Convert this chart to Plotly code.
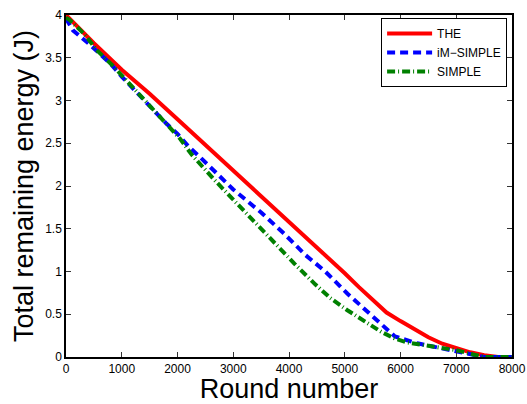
import plotly.graph_objects as go

# THE
the_x = [0, 500, 1000, 1500, 2000, 2500, 3000, 3500, 4000, 4500, 5000, 5250, 5500, 5750,
         6000, 6250, 6500, 6750, 7000, 7250, 7500, 7750, 8000]
the_y = [4.00, 3.67, 3.36, 3.08, 2.78, 2.48, 2.18, 1.88, 1.59, 1.29, 0.98, 0.82, 0.67, 0.52,
         0.42, 0.32, 0.23, 0.155, 0.10, 0.055, 0.02, 0.0, 0.0]

# iM-SIMPLE
im_x = [0, 125, 400, 600, 800, 1000, 1200, 1400, 1600, 1800, 2000, 2200, 2400, 2700, 3000,
        3500, 3900, 4300, 4650, 5050, 5500, 5900, 6300, 6800, 7100, 7500, 8000]
im_y = [3.96, 3.82, 3.67, 3.55, 3.43, 3.28, 3.14, 3.00, 2.87, 2.73, 2.61, 2.46, 2.34, 2.15, 1.96,
        1.69, 1.45, 1.19, 1.00, 0.74, 0.47, 0.24, 0.16, 0.09, 0.045, 0.0, 0.0]

# SIMPLE
s_x = [0, 70, 340, 550, 850, 1100, 1330, 1570, 1810, 2050, 2250, 2650, 3100, 3600, 4100,
       4470, 4740, 5040, 5340, 5640, 5880, 6120, 6600, 7000, 7300, 7500, 8000]
s_y = [3.97, 3.94, 3.77, 3.59, 3.40, 3.22, 3.05, 2.89, 2.72, 2.55, 2.37, 2.08, 1.77, 1.43, 1.09,
       0.85, 0.69, 0.55, 0.42, 0.30, 0.22, 0.17, 0.12, 0.08, 0.03, 0.0, 0.0]

x_ticks = [0, 1000, 2000, 3000, 4000, 5000, 6000, 7000, 8000]
y_ticks = [0, 0.5, 1, 1.5, 2, 2.5, 3, 3.5, 4]
y_tick_text = ["0", "0.5", "1", "1.5", "2", "2.5", "3", "3.5", "4"]

FONT = "Liberation Sans, Arial, sans-serif"

fig = go.Figure()
fig.add_trace(go.Scatter(x=the_x, y=the_y, mode="lines", name="THE",
                         line=dict(color="#FF0000", width=4)))
fig.add_trace(go.Scatter(x=im_x, y=im_y, mode="lines", name="iM\u2212SIMPLE",
                         line=dict(color="#0000FF", width=4, dash="8px,5px")))
fig.add_trace(go.Scatter(x=s_x, y=s_y, mode="lines", name="SIMPLE",
                         line=dict(color="#008000", width=4, dash="8px,3px,1px,3px")))

axis_common = dict(
    showline=True, linecolor="black", linewidth=1.5, mirror="ticks",
    ticks="inside", ticklen=5, tickwidth=1, tickcolor="#333333",
    showgrid=False, zeroline=False,
    tickfont=dict(family=FONT, size=12, color="black"),
)

fig.update_layout(
    width=527, height=404,
    margin=dict(l=66, r=15, t=15, b=47),
    paper_bgcolor="white", plot_bgcolor="white",
    font=dict(family=FONT, color="black"),
    xaxis=dict(range=[0, 8000], tickvals=x_ticks, automargin=False,
               title=dict(text="Round number", font=dict(family=FONT, size=27), standoff=6),
               **axis_common),
    yaxis=dict(range=[0, 4], tickvals=y_ticks, ticktext=y_tick_text, automargin=False,
               title=dict(text="Total remaining energy (J)", font=dict(family=FONT, size=27), standoff=4),
               **axis_common),
    legend=dict(x=0.989, y=0.991, xanchor="right", yanchor="top",
                bgcolor="white", bordercolor="black", borderwidth=1,
                font=dict(family=FONT, size=12), tracegroupgap=0, itemwidth=45),
    showlegend=True,
)

# remove the default 8px page margin so the 527x404 figure fills the window exactly
fig.write_html("out.html", config={"displayModeBar": False},
               post_script="document.body.style.margin='0';")
